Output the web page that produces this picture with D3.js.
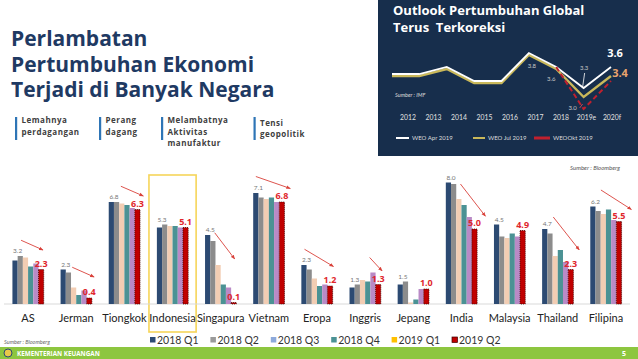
<!DOCTYPE html>
<html><head><meta charset="utf-8">
<script src="https://cdn.jsdelivr.net/npm/d3@7"></script>
<style>
html,body{margin:0;padding:0;background:#fff;}
svg{display:block;}
</style></head>
<body>
<svg id="c" width="638" height="359"></svg>
<script>
// ---------- DATA ----------
const categories = ["AS","Jerman","Tiongkok","Indonesia","Singapura","Vietnam","Eropa","Inggris","Jepang","India","Malaysia","Thailand","Filipina"];
const seriesNames = ["2018 Q1","2018 Q2","2018 Q3","2018 Q4","2019 Q1","2019 Q2"];
const q1_2018 = [2.9, 2.3, 6.8, 5.1, 4.6, 7.4, 2.6, 1.1, 1.3, 8.1, 5.3, 5.0, 6.5];
const q2_2018 = [3.2, 2.1, 6.8, 5.3, 4.2, 7.1, 2.3, 1.3, 1.5, 8.0, 4.5, 4.7, 6.2];
const q3_2018 = [3.1, 1.1, 6.7, 5.2, 2.6, 7.0, 1.7, 1.6, 0.1, 7.0, 4.4, 3.2, 6.0];
const q4_2018 = [2.5, 0.6, 6.6, 5.2, 1.3, 7.1, 1.2, 1.5, 0.3, 6.6, 4.7, 3.6, 6.3];
const q1_2019 = [2.7, 0.9, 6.4, 5.1, 1.1, 6.8, 1.3, 2.1, 1.0, 5.8, 4.5, 2.8, 5.6];
const q2_2019 = [2.3, 0.4, 6.3, 5.1, 0.1, 6.8, 1.2, 1.3, 1.0, 5.0, 4.9, 2.3, 5.5];
const peakLabels = [3.2, 2.3, 6.8, 5.3, 4.5, 7.1, 2.3, 1.3, 1.5, 8.0, 4.5, 4.7, 6.2];
const highlighted = "Indonesia";
// trend arrows: offsets from group centre (px) and heights (data units)
const arrowCats = ["AS","Jerman","Tiongkok","Singapura","Vietnam","Eropa","Inggris","India","Thailand","Filipina"];
const arrowFrom = [[-7,4.25],[-4,2.45],[-3.5,7.85],[-6,4.75],[-13,8.5],[-12.5,3.65],[4.5,3.1],[-1,8.0],[-4.5,5.8],[-5,7.6]];
const arrowTo   = [[15,3.6],[18,1.8],[19,7.2],[14,3.0],[21.5,7.7],[16.5,2.5],[17,2.2],[24,5.85],[21.5,3.6],[25.5,6.3]];

const bulletTexts = [["Lemahnya","perdagangan"],["Perang","dagang"],["Melambatnya","Aktivitas","manufaktur"],["Tensi","geopolitik"]];
const titleLines = ["Perlambatan","Pertumbuhan Ekonomi","Terjadi di Banyak Negara"];

// inset (IMF WEO)
const years = ["2012","2013","2014","2015","2016","2017","2018","2019e","2020f"];
const weoApr = [3.5, 3.5, 3.6, 3.4, 3.4, 3.8, 3.6, 3.3, 3.6];
const weoJul = [3.5, 3.5, 3.6, 3.4, 3.4, 3.8, 3.6, 3.2, 3.5];
const weoOkt = [null, null, null, null, null, null, 3.6, 3.0, 3.4];
const weoNames = ["WEO Apr 2019","WEO Jul 2019","WEOOkt 2019"];

// ---------- DRAW ----------
const svg = d3.select("#c");
const barColors = ["#2c4a72","#8c8c8c","#f2cdb3","#4b9294","#b98ac6","#c00000"];
const legendColors = ["#2c4a72","#9a9a9a","#8eaadb","#4b9294","#ffc000","#c00000"];
const allSeries = [q1_2018,q2_2018,q3_2018,q4_2018,q1_2019,q2_2019];

// Title
const navy = "#1f3a63";
svg.append("g").selectAll("text").data(titleLines).join("text")
  .attr("x", 11).attr("y", (d,i)=>46 + i*25.5)
  .attr("font-family","'Open Sans', sans-serif").attr("font-weight","bold")
  .attr("font-size", 21).attr("fill", navy).text(d=>d);

// bullets
const bulletX = [15, 99, 161, 253.5];
const bg = svg.append("g");
bulletTexts.forEach((lines,i)=>{
  bg.append("rect").attr("x",bulletX[i]).attr("y",117).attr("width",2.2).attr("height",23).attr("fill","#2e75b6");
  lines.forEach((t,j)=>{
    bg.append("text").attr("x",bulletX[i]+6.5).attr("y",(i===3?125.5:122.8)+j*11.8)
      .attr("font-family","'Open Sans', sans-serif").attr("font-weight","bold")
      .attr("font-size",8).attr("letter-spacing",0.5).attr("fill","#404040").text(t);
  });
});

// Main chart scales
const x0 = d3.scaleBand().domain(categories).range([4,630]).paddingInner(0.35).paddingOuter(0.175);
const x1 = d3.scaleBand().domain(d3.range(seriesNames.length)).range([0, x0.bandwidth()]);
const y = d3.scaleLinear().domain([0,8]).range([304,184]);

// highlight box
const hb = x0(highlighted) + x0.bandwidth()/2;
svg.append("rect").attr("x", hb - x0.step()/2 + 0.5).attr("y", y(8.6)).attr("width", x0.step()-1)
  .attr("height", 332 - y(8.6)).attr("fill","none").attr("stroke","#f6d55a").attr("stroke-width",1.6);

// baseline
svg.append("line").attr("x1",4).attr("x2",630).attr("y1",y(0)).attr("y2",y(0)).attr("stroke","#d9d9d9").attr("stroke-width",1);

// bars
const groups = svg.append("g").selectAll("g").data(categories).join("g")
  .attr("transform", d=>`translate(${x0(d)},0)`);
groups.selectAll("rect").data((d,i)=>allSeries.map((s,k)=>({k, v:s[i]}))).join("rect")
  .attr("x", d=>x1(d.k)).attr("width", x1.bandwidth())
  .attr("y", d=>y(d.v)).attr("height", d=>y(0)-y(d.v))
  .attr("fill", d=>barColors[d.k])
  .attr("stroke", d=>d.k===5?"#3a0000":"none")
  .attr("stroke-width", 0.8).attr("stroke-dasharray", d=>d.k===5?"1,1":null);

// peak labels
groups.append("text")
  .attr("x", x1.bandwidth())
  .attr("y", (d,i)=>y(Math.max(q1_2018[i],q2_2018[i])) - 3)
  .attr("text-anchor","middle").attr("font-family","Lato, sans-serif")
  .attr("font-size",6.5).attr("fill","#777")
  .text((d,i)=>d3.format(".1f")(peakLabels[i]));
// last value labels
groups.append("text")
  .attr("x", x1(5) + x1.bandwidth()/2)
  .attr("y", (d,i)=>y(q2_2019[i]) - 3)
  .attr("text-anchor","middle").attr("font-family","'Open Sans', sans-serif").attr("font-weight","bold")
  .attr("font-size",9).attr("fill","#e0262c")
  .text((d,i)=>d3.format(".1f")(q2_2019[i]));

// category labels
svg.append("g").selectAll("text").data(categories).join("text")
  .attr("x", d=>x0(d)+x0.bandwidth()/2).attr("y", 321.5)
  .attr("text-anchor","middle").attr("font-family","Lato, sans-serif")
  .attr("font-size",11).attr("fill","#222").text(d=>d);

// arrows
const defs = svg.append("defs");
defs.append("marker").attr("id","ah").attr("viewBox","0 0 10 10").attr("refX",9).attr("refY",5)
  .attr("markerWidth",5).attr("markerHeight",5).attr("orient","auto")
  .append("path").attr("d","M0,1 L10,5 L0,9 z").attr("fill","#d9413a");
svg.append("g").selectAll("line").data(arrowCats).join("line")
  .attr("x1",(d,i)=>x0(d)+x0.bandwidth()/2+arrowFrom[i][0]).attr("y1",(d,i)=>y(arrowFrom[i][1]))
  .attr("x2",(d,i)=>x0(d)+x0.bandwidth()/2+arrowTo[i][0]).attr("y2",(d,i)=>y(arrowTo[i][1]))
  .attr("stroke","#d9413a").attr("stroke-width",0.9).attr("marker-end","url(#ah)");

// sources
svg.append("text").attr("x",620).attr("y",170).attr("text-anchor","end")
  .attr("font-family","Lato, sans-serif").attr("font-style","italic").attr("font-size",6)
  .attr("fill","#555").text("Sumber : Bloomberg");
svg.append("text").attr("x",4).attr("y",344)
  .attr("font-family","Lato, sans-serif").attr("font-style","italic").attr("font-size",5.5)
  .attr("fill","#666").text("Sumber : Bloomberg");

// legend
const lg = svg.append("g").selectAll("g").data(seriesNames).join("g")
  .attr("transform",(d,i)=>`translate(${150 + i*60.4},0)`);
lg.append("rect").attr("x",0).attr("y",337).attr("width",5.5).attr("height",5.5)
  .attr("fill",(d,i)=>legendColors[i]).attr("stroke",(d,i)=>i===5?"#3a0000":"none").attr("stroke-width",0.7);
lg.append("text").attr("x",7).attr("y",344).attr("font-family","Lato, sans-serif")
  .attr("font-size",10.5).attr("fill","#333").text(d=>d);

// footer
svg.append("rect").attr("x",0).attr("y",347).attr("width",638).attr("height",12).attr("fill","#8dc63f");
svg.append("circle").attr("cx",8).attr("cy",353).attr("r",4).attr("fill","#e8c84a").attr("stroke","#2c4a72").attr("stroke-width",1);
svg.append("text").attr("x",17).attr("y",355.5).attr("font-family","'Open Sans', sans-serif").attr("font-weight","bold")
  .attr("font-size",6.3).attr("fill","#fff").text("KEMENTERIAN KEUANGAN");
svg.append("text").attr("x",624).attr("y",355.5).attr("text-anchor","middle").attr("font-family","'Open Sans', sans-serif").attr("font-weight","bold")
  .attr("font-size",7).attr("fill","#fff").text("5");

// ---------- INSET ----------
const ins = svg.append("g");
ins.append("rect").attr("x",378).attr("y",0).attr("width",260).attr("height",156).attr("fill","#172e4c");
ins.append("text").attr("x",393).attr("y",15).attr("font-family","'Open Sans', sans-serif").attr("font-weight","bold")
  .attr("font-size",13).attr("fill","#fff").text("Outlook Pertumbuhan Global");
ins.append("text").attr("x",393).attr("y",31.5).attr("font-family","'Open Sans', sans-serif").attr("font-weight","bold")
  .attr("font-size",13).attr("fill","#fff").attr("xml:space","preserve").text("Terus  Terkoreksi");

const xi = d3.scalePoint().domain(years).range([392,611]);
const xiLab = d3.scalePoint().domain(years).range([408,612]);
const yi = d3.scaleLinear().domain([3.0,3.8]).range([109,53]);
const ln = d3.line().defined(d=>d[1]!=null).x(d=>xi(d[0])).y(d=>yi(d[1]));

ins.append("path").datum(years.map((yr,i)=>[yr,weoJul[i]])).attr("d",ln)
  .attr("fill","none").attr("stroke","#c9b85a").attr("stroke-width",2.4).attr("transform","translate(0,2)");
ins.append("path").datum(years.map((yr,i)=>[yr,weoApr[i]])).attr("d",ln)
  .attr("fill","none").attr("stroke","#ffffff").attr("stroke-width",1.8);
ins.append("path").datum(years.map((yr,i)=>[yr,weoOkt[i]])).attr("d",ln)
  .attr("fill","none").attr("stroke","#c0202e").attr("stroke-width",2).attr("stroke-dasharray","5,3");

// point labels
const small = (t,xx,yy)=>ins.append("text").attr("x",xx).attr("y",yy).attr("text-anchor","middle")
  .attr("font-family","Lato, sans-serif").attr("font-size",6).attr("fill","#c8c8c8").text(t);
small(d3.format(".1f")(weoApr[5]), xi("2017")+3, yi(weoApr[5])+15);
small(d3.format(".1f")(weoOkt[6]), xi("2018")-5, yi(weoOkt[6])+14);
small(d3.format(".1f")(weoApr[7]), xi("2019e")+0.5, yi(weoApr[7])-18);
small(d3.format(".1f")(weoOkt[7]), xi("2019e")-11, yi(weoOkt[7])+1);
ins.append("line").attr("x1",xi("2019e")+1).attr("y1",yi(weoApr[7])-15).attr("x2",xi("2019e")-1).attr("y2",yi(weoApr[7])-1)
  .attr("stroke","#fff").attr("stroke-width",0.8);
ins.append("line").attr("x1",xi("2019e")-4).attr("y1",yi(weoOkt[7])-1).attr("x2",xi("2019e")-1).attr("y2",yi(weoOkt[7])-5)
  .attr("stroke","#e05060").attr("stroke-width",0.8);
ins.append("text").attr("x",xi("2020f")+4).attr("y",yi(weoApr[8])-10).attr("text-anchor","middle")
  .attr("font-family","'Open Sans', sans-serif").attr("font-weight","bold").attr("font-size",11).attr("fill","#fff")
  .text(d3.format(".1f")(weoApr[8]));
ins.append("text").attr("x",xi("2020f")+9).attr("y",yi(weoOkt[8])-4).attr("text-anchor","middle")
  .attr("font-family","'Open Sans', sans-serif").attr("font-weight","bold").attr("font-size",11).attr("fill","#eaa46e")
  .text(d3.format(".1f")(weoOkt[8]));

ins.append("text").attr("x",395).attr("y",97).attr("font-family","Lato, sans-serif").attr("font-style","italic")
  .attr("font-size",5.5).attr("fill","#ddd").text("Sumber : IMF");

ins.append("g").selectAll("text").data(years).join("text")
  .attr("x",d=>xiLab(d)).attr("y",120).attr("text-anchor","middle")
  .attr("font-family","Lato, sans-serif").attr("font-size",6.8).attr("fill","#e2e2e2").text(d=>d);

// inset legend
const insLegX = [396, 473, 534];
const insLegW = [13, 12, 16];
const insLegC = ["#ffffff","#c9b85a","#c0202e"];
weoNames.forEach((n,i)=>{
  ins.append("line").attr("x1",insLegX[i]).attr("x2",insLegX[i]+insLegW[i]).attr("y1",138).attr("y2",138)
    .attr("stroke",insLegC[i]).attr("stroke-width",i===2?3:2);
  ins.append("text").attr("x",insLegX[i]+insLegW[i]+3).attr("y",140).attr("font-family","Lato, sans-serif")
    .attr("font-size",6).attr("fill","#ddd").text(n);
});
</script>
</body></html>
